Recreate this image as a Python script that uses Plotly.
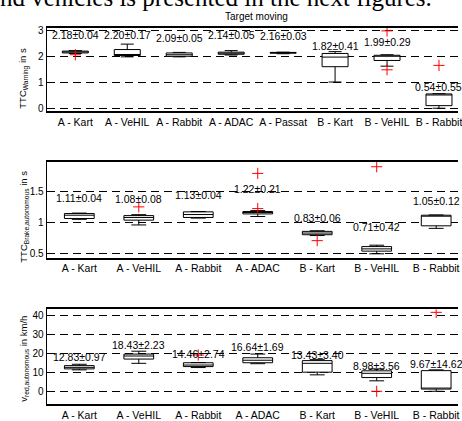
import plotly.graph_objects as go

W, H = 462, 421

cats_top = ["A - Kart", "A - VeHIL", "A - Rabbit", "A - ADAC", "A - Passat",
            "B - Kart", "B - VeHIL", "B - Rabbit"]
cats_low = ["A - Kart", "A - VeHIL", "A - Rabbit", "A - ADAC",
            "B - Kart", "B - VeHIL", "B - Rabbit"]

# Panel 1: TTC Warning (s)
warn_lo = [2.13, 2.00, 2.00, 2.07, 2.12, 1.03, 1.64, 0.02]
warn_q1 = [2.15, 2.05, 2.02, 2.10, 2.14, 1.62, 1.86, 0.12]
warn_med = [2.19, 2.09, 2.08, 2.14, 2.16, 1.99, 2.04, 0.53]
warn_q3 = [2.22, 2.28, 2.15, 2.18, 2.17, 2.13, 2.06, 0.57]
warn_hi = [2.24, 2.49, 2.17, 2.24, 2.18, 2.20, 2.08, 0.58]
warn_out_x = ["A - Kart", "B - VeHIL", "B - VeHIL", "B - Rabbit"]
warn_out_y = [2.08, 3.00, 1.50, 1.67]
warn_text = ["2.18±0.04", "2.20±0.17", "2.09±0.05", "2.14±0.05", "2.16±0.03",
             "1.82±0.41", "1.99±0.29", "0.54±0.55"]
warn_text_y = [2.86, 2.85, 2.72, 2.86, 2.81, 2.40, 2.57, 0.82]

# Panel 2: TTC Brake, autonomous (s)
brake_lo = [1.05, 0.96, 1.07, 1.095, 0.79, 0.497, 0.905]
brake_q1 = [1.063, 1.037, 1.08, 1.137, 0.803, 0.54, 0.946]
brake_med = [1.116, 1.08, 1.127, 1.16, 0.83, 0.576, 1.11]
brake_q3 = [1.143, 1.11, 1.17, 1.175, 0.857, 0.613, 1.116]
brake_hi = [1.15, 1.125, 1.175, 1.19, 0.867, 0.635, 1.12]
brake_out_x = ["A - VeHIL", "A - ADAC", "A - ADAC", "B - Kart", "B - VeHIL"]
brake_out_y = [1.25, 1.787, 1.222, 0.708, 1.894]
brake_text = ["1.11±0.04", "1.08±0.08", "1.13±0.04", "1.22±0.21",
              "0.83±0.06", "0.71±0.42", "1.05±0.12"]
brake_text_y = [1.40, 1.37, 1.44, 1.53, 1.073, 0.93, 1.343]

# Panel 3: v red, autonomous (km/h)
v_lo = [11.5, 14.9, 12.7, 14.7, 8.9, 5.8, 0.35]
v_q1 = [12.0, 17.1, 13.2, 15.2, 10.3, 7.5, 1.5]
v_med = [12.8, 18.7, 14.0, 16.5, 14.9, 9.7, 2.0]
v_q3 = [13.7, 19.7, 15.2, 17.8, 16.3, 11.0, 11.1]
v_hi = [14.4, 21.2, 15.3, 19.7, 16.8, 12.0, 11.5]
v_out_x = ["A - Rabbit", "B - VeHIL", "B - Rabbit"]
v_out_y = [19.2, 0.35, 41.4]
v_text = ["12.83±0.97", "18.43±2.23", "14.46±2.74", "16.64±1.69",
          "13.43±3.40", "8.98±3.56", "9.67±14.62"]
v_text_y = [18.3, 24.6, 20.0, 23.3, 19.2, 13.7, 14.6]

FONT = "Liberation Sans, Arial, sans-serif"

def py(px):
    return 1 - px / H

fig = go.Figure()

panels = [
    ("x", "y", cats_top, warn_lo, warn_q1, warn_med, warn_q3, warn_hi,
     warn_out_x, warn_out_y, warn_text, warn_text_y),
    ("x2", "y2", cats_low, brake_lo, brake_q1, brake_med, brake_q3, brake_hi,
     brake_out_x, brake_out_y, brake_text, brake_text_y),
    ("x3", "y3", cats_low, v_lo, v_q1, v_med, v_q3, v_hi,
     v_out_x, v_out_y, v_text, v_text_y),
]

annotations = []
for xa, ya, cats, lo, q1, med, q3, hi, ox, oy, txt, ty in panels:
    fig.add_trace(go.Box(
        x=cats, lowerfence=lo, q1=q1, median=med, q3=q3, upperfence=hi,
        xaxis=xa, yaxis=ya, width=0.5, whiskerwidth=0.5,
        fillcolor="white", line=dict(color="black", width=1),
        boxpoints=False, showlegend=False, hoverinfo="skip"))
    fig.add_trace(go.Scatter(
        x=ox, y=oy, mode="markers", xaxis=xa, yaxis=ya, showlegend=False,
        hoverinfo="skip",
        marker=dict(symbol="cross-thin", size=8, color="red",
                    line=dict(color="red", width=1))))
    for c, t, yy in zip(cats, txt, ty):
        annotations.append(dict(x=c, y=yy, xref=xa, yref=ya, text=t,
                                showarrow=False, xanchor="center", yanchor="middle",
                                font=dict(family=FONT, size=10.5, color="black")))

# axis titles and header texts
annotations += [
    dict(x=24 / W, y=py(77), xref="paper", yref="paper", textangle=-90,
         xanchor="center", yanchor="middle",
         text="TTC<sub>Warning</sub> in s", showarrow=False,
         font=dict(family=FONT, size=9.5, color="black")),
    dict(x=24 / W, y=py(218), xref="paper", yref="paper", textangle=-90,
         xanchor="center", yanchor="middle",
         text="TTC<sub>Brake,autonomous</sub> in s", showarrow=False,
         font=dict(family=FONT, size=9.5, color="black")),
    dict(x=24 / W, y=py(362), xref="paper", yref="paper", textangle=-90,
         xanchor="center", yanchor="middle",
         text="v<sub>red,autonomous</sub> in km/h", showarrow=False,
         font=dict(family=FONT, size=9.5, color="black")),
    dict(x=259 / W, y=py(15), xref="paper", yref="paper",
         xanchor="center", yanchor="middle",
         text="Target moving", showarrow=False,
         font=dict(family=FONT, size=10, color="black")),
    dict(x=-2 / W, y=py(-5), xref="paper", yref="paper", xanchor="left",
         yanchor="middle", text="nd vehicles is presented in the next figures.",
         showarrow=False,
         font=dict(family="Liberation Serif, Times New Roman, serif", size=25,
                   color="black")),
]

xdom = [47 / W, 1]

def xax(cats, rng):
    return dict(domain=xdom, type="category", categoryorder="array",
                categoryarray=cats, range=rng, showline=True, mirror=True,
                linecolor="black", linewidth=1.5, ticks="", showgrid=False,
                zeroline=False, tickfont=dict(family=FONT, size=10.5, color="black"))

def yax(dom, rng, tv):
    return dict(domain=dom, range=rng, tickvals=tv, ticks="inside", ticklen=4,
                tickcolor="black", showline=True, linecolor="black", linewidth=1,
                showgrid=True, gridcolor="black", gridwidth=1, griddash="8px,5px",
                zeroline=False, tickfont=dict(family=FONT, size=10, color="black"))

fig.update_layout(
    width=W, height=H, margin=dict(l=0, r=0, t=0, b=0),
    paper_bgcolor="white", plot_bgcolor="white",
    xaxis=dict(anchor="y", **xax(cats_top, [-0.553, 7.366])),
    yaxis=dict(anchor="x", **yax([py(111), py(26)], [-0.103, 3.125], [0, 1, 2, 3])),
    xaxis2=dict(anchor="y2", **xax(cats_low, [-0.55, 6.367])),
    yaxis2=dict(anchor="x2", **yax([py(259.3), py(162.3)], [0.436, 1.97], [0.5, 1, 1.5])),
    xaxis3=dict(anchor="y3", **xax(cats_low, [-0.55, 6.367])),
    yaxis3=dict(anchor="x3", **yax([py(408.3), py(311.7)], [-6.5, 43], [0, 10, 20, 30, 40])),
    annotations=annotations,
)

fig.write_html("out.html", config={"displayModeBar": False},
               post_script="document.body.style.margin='0';"
                           "document.body.style.overflow='hidden';")
